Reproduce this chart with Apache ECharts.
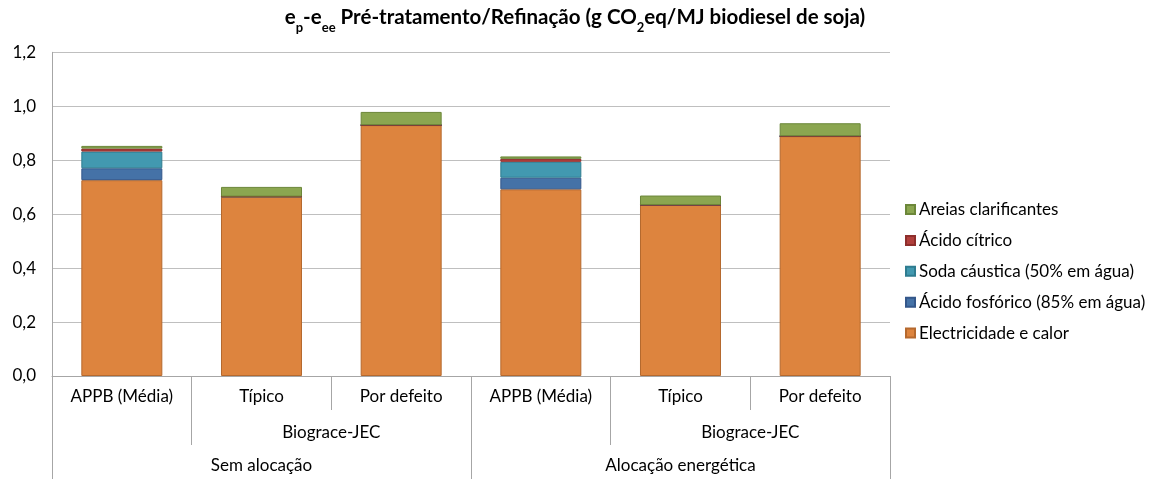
<!DOCTYPE html>
<html>
<head>
<meta charset="utf-8">
<script src="https://cdn.jsdelivr.net/npm/echarts@6/dist/echarts.min.js"></script>
<style>html,body{margin:0;padding:0;background:#fff}#c{width:1150px;height:479px}</style>
</head>
<body>
<div id="c"></div>
<script>
const categories = ['APPB (Média)', 'Típico', 'Por defeito', 'APPB (Média)', 'Típico', 'Por defeito'];
const level2Labels = ['', '', 'Biograce-JEC', '', '', 'Biograce-JEC', ''];
const level3Labels = ['Sem alocação', 'Alocação energética'];
const yTicks = [0, 0.2, 0.4, 0.6, 0.8, 1.0, 1.2];

const seriesNames = ['Electricidade e calor', 'Ácido fosfórico (85% em água)', 'Soda cáustica (50% em água)', 'Ácido cítrico', 'Areias clarificantes'];
const electricidade = [0.726, 0.665, 0.930, 0.692, 0.634, 0.889];
const acidoFosforico = [0.044, 0, 0, 0.043, 0, 0];
const sodaCaustica = [0.062, 0, 0, 0.059, 0, 0];
const acidoCitrico = [0.011, 0, 0, 0.011, 0, 0];
const areias = [0.010, 0.036, 0.049, 0.009, 0.035, 0.048];

const colors = ['#DD843E', '#4572A7', '#4299B0', '#B13F3C', '#8BA650'];
const borders = ['#B5692E', '#34578A', '#2F7C90', '#8E2E2C', '#6C873A'];
const values = [electricidade, acidoFosforico, sodaCaustica, acidoCitrico, areias];

const FONT = 'Lato';
const FS = 17;
const chart = echarts.init(document.getElementById('c'));
const tickColor = '#A6A6A6';

chart.setOption({
  animation: false,
  textStyle: { fontFamily: FONT },
  title: {
    left: 'center',
    top: 0,
    padding: [0, 0, 0, 0],
    text: '{n|e}{s|p}{n|-e}{s|ee}{n| Pré-tratamento/Refinação (g CO}{s|2}{n|eq/MJ biodiesel de soja)}',
    textStyle: {
      rich: {
        n: { fontFamily: FONT, fontSize: 20.5, fontWeight: 'bold', color: '#000', lineHeight: 34, verticalAlign: 'middle' },
        s: { fontFamily: FONT, fontSize: 13, fontWeight: 'bold', color: '#000', lineHeight: 12, verticalAlign: 'bottom' }
      }
    }
  },
  legend: {
    orient: 'vertical',
    left: 905,
    top: 201,
    padding: 0,
    itemWidth: 9,
    itemHeight: 9,
    itemGap: 13.9,
    icon: 'rect',
    data: seriesNames.slice().reverse(),
    textStyle: { fontFamily: FONT, fontSize: FS, color: '#000', lineHeight: 16, padding: [0, 0, 0, -1] }
  },
  grid: { left: 52, right: 260, top: 52.3, bottom: 103, containLabel: false },
  xAxis: [
    {
      type: 'category',
      data: categories,
      position: 'bottom',
      axisLine: { show: true, lineStyle: { color: '#A6A6A6', width: 1 } },
      axisTick: { show: true, length: 34, lineStyle: { color: tickColor } },
      axisLabel: { fontFamily: FONT, fontSize: FS, color: '#000', margin: 12, interval: 0 }
    },
    {
      type: 'category',
      data: level2Labels,
      position: 'bottom',
      offset: 34,
      boundaryGap: false,
      axisLine: { show: false },
      axisTick: { show: true, length: 35, interval: function (i) { return [0, 1, 3, 4, 6].indexOf(i) >= 0; }, lineStyle: { color: tickColor } },
      axisLabel: { fontFamily: FONT, fontSize: FS, color: '#000', margin: 14, interval: 0 }
    },
    {
      type: 'category',
      data: level3Labels,
      position: 'bottom',
      offset: 69,
      axisLine: { show: false },
      axisTick: { show: true, length: 34, lineStyle: { color: tickColor } },
      axisLabel: { fontFamily: FONT, fontSize: FS, color: '#000', margin: 12, interval: 0 }
    }
  ],
  yAxis: {
    type: 'value',
    min: yTicks[0],
    max: yTicks[yTicks.length - 1],
    interval: 0.2,
    axisLine: { show: true, lineStyle: { color: '#A6A6A6' } },
    axisTick: { show: false },
    splitLine: { lineStyle: { color: '#BFBFBF', width: 1 } },
    axisLabel: { fontFamily: FONT, fontSize: FS, color: '#000', margin: 16, formatter: function (v) { return v.toFixed(1).replace('.', ','); } }
  },
  series: seriesNames.map(function (name, k) {
    return {
      name: name,
      type: 'bar',
      stack: 'total',
      xAxisIndex: 0,
      barWidth: '58%',
      data: values[k],
      itemStyle: { color: colors[k], borderColor: borders[k], borderWidth: 1 }
    };
  })
});
</script>
</body>
</html>
